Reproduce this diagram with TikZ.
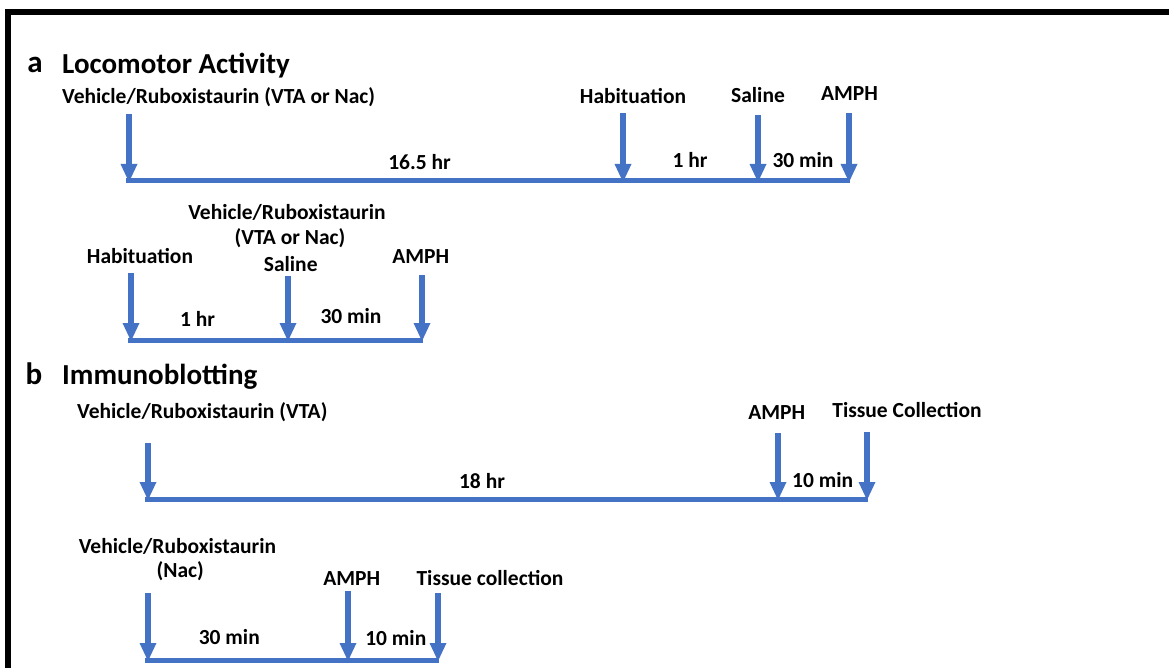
\documentclass[tikz,border=0pt]{standalone}
\usepackage{fontspec}
\setmainfont{Carlito}
\usetikzlibrary{arrows.meta}
\definecolor{tlblue}{HTML}{4472C4}
\begin{document}
\begin{tikzpicture}[x=1pt,y=-1pt,
 lbl/.style={font=\fontsize{21.5}{24}\selectfont\bfseries, inner sep=0pt, anchor=base},
 lblw/.style={lbl, anchor=base west},
 ttl/.style={font=\fontsize{29}{32}\selectfont\bfseries, inner sep=0pt, anchor=base west},
 letter/.style={font=\fontsize{31}{34}\selectfont\bfseries, inner sep=0pt, anchor=base},
 arr/.style={draw=tlblue, line width=6pt, -{Triangle[width=17pt,length=18pt,line width=0pt]}},
 tl/.style={draw=tlblue, line width=5pt},
 frame/.style={draw=black, line width=6pt}
 ]
\useasboundingbox (0,0) rectangle (1169,668);
\coordinate (fb) at (8,668);
\coordinate (fc) at (8,12.3);
\coordinate (fr) at (1169,12.3);
\draw[frame] (fb) -- (fc) -- (fr);

% ---------- a ----------
\node[letter] (la) at (35,73) {a};
\node[ttl] (ta) at (62,74) {Locomotor Activity};

% timeline a1
\node[lblw] (a1l1) at (62,104) {Vehicle/Ruboxistaurin (VTA or Nac)};
\node[lbl] (a1l2) at (633,103.3) {Habituation};
\node[lbl] (a1l3) at (758,102.7) {Saline};
\node[lbl] (a1l4) at (849.5,101) {AMPH};
\coordinate (a1t1) at (129,114); \coordinate (a1p1) at (129,182);
\coordinate (a1t2) at (623,113); \coordinate (a1p2) at (623,182);
\coordinate (a1t3) at (758,115); \coordinate (a1p3) at (758,182);
\coordinate (a1t4) at (849,113); \coordinate (a1p4) at (849,182);
\coordinate (a1s) at (126,181); \coordinate (a1e) at (850,181);
\draw[tl] (a1s) -- (a1e);
\draw[arr] (a1t1) -- (a1p1);
\draw[arr] (a1t2) -- (a1p2);
\draw[arr] (a1t3) -- (a1p3);
\draw[arr] (a1t4) -- (a1p4);
\node[lbl] (a1d1) at (419.5,169.3) {16.5 hr};
\node[lbl] (a1d2) at (690,167.3) {1 hr};
\node[lbl] (a1d3) at (803,167.3) {30 min};

% timeline a2
\node[lbl] (a2l1) at (140,263) {Habituation};
\node[lbl] (a2l2) at (287,220) {Vehicle/Ruboxistaurin};
\node[lbl] (a2l3) at (290,245) {(VTA or Nac)};
\node[lbl] (a2l4) at (290.7,271.7) {Saline};
\node[lbl] (a2l5) at (420.7,264) {AMPH};
\coordinate (a2t1) at (131,273); \coordinate (a2p1) at (131,341);
\coordinate (a2t2) at (288,276); \coordinate (a2p2) at (288,341);
\coordinate (a2t3) at (422,275); \coordinate (a2p3) at (422,341);
\coordinate (a2s) at (128,340); \coordinate (a2e) at (423,340);
\draw[tl] (a2s) -- (a2e);
\draw[arr] (a2t1) -- (a2p1);
\draw[arr] (a2t2) -- (a2p2);
\draw[arr] (a2t3) -- (a2p3);
\node[lbl] (a2d1) at (197.5,326.7) {1 hr};
\node[lbl] (a2d2) at (351,323.3) {30 min};

% ---------- b ----------
\node[letter] (lb) at (34,384) {b};
\node[ttl] (tb) at (62,384) {Immunoblotting};

% timeline b1
\node[lblw] (b1l1) at (77,418) {Vehicle/Ruboxistaurin (VTA)};
\node[lbl] (b1l2) at (776.7,419.3) {AMPH};
\node[lbl] (b1l3) at (907,417.3) {Tissue Collection};
\coordinate (b1t1) at (148,443); \coordinate (b1p1) at (148,500);
\coordinate (b1t2) at (778,433); \coordinate (b1p2) at (778,500);
\coordinate (b1t3) at (867,432); \coordinate (b1p3) at (867,500);
\coordinate (b1s) at (145,499); \coordinate (b1e) at (868,499);
\draw[tl] (b1s) -- (b1e);
\draw[arr] (b1t1) -- (b1p1);
\draw[arr] (b1t2) -- (b1p2);
\draw[arr] (b1t3) -- (b1p3);
\node[lbl] (b1d1) at (482,488.3) {18 hr};
\node[lbl] (b1d2) at (822.7,487.3) {10 min};

% timeline b2
\node[lbl] (b2l1) at (177.5,553.3) {Vehicle/Ruboxistaurin};
\node[lbl] (b2l2) at (180.3,577.5) {(Nac)};
\node[lbl] (b2l3) at (351.7,585) {AMPH};
\node[lbl] (b2l4) at (490,585) {Tissue collection};
\coordinate (b2t1) at (148,593); \coordinate (b2p1) at (148,661);
\coordinate (b2t2) at (348,591); \coordinate (b2p2) at (348,661);
\coordinate (b2t3) at (438,593); \coordinate (b2p3) at (438,661);
\coordinate (b2s) at (145,660); \coordinate (b2e) at (439,660);
\draw[tl] (b2s) -- (b2e);
\draw[arr] (b2t1) -- (b2p1);
\draw[arr] (b2t2) -- (b2p2);
\draw[arr] (b2t3) -- (b2p3);
\node[lbl] (b2d1) at (229.3,644) {30 min};
\node[lbl] (b2d2) at (395.8,645) {10 min};
\end{tikzpicture}
\end{document}
